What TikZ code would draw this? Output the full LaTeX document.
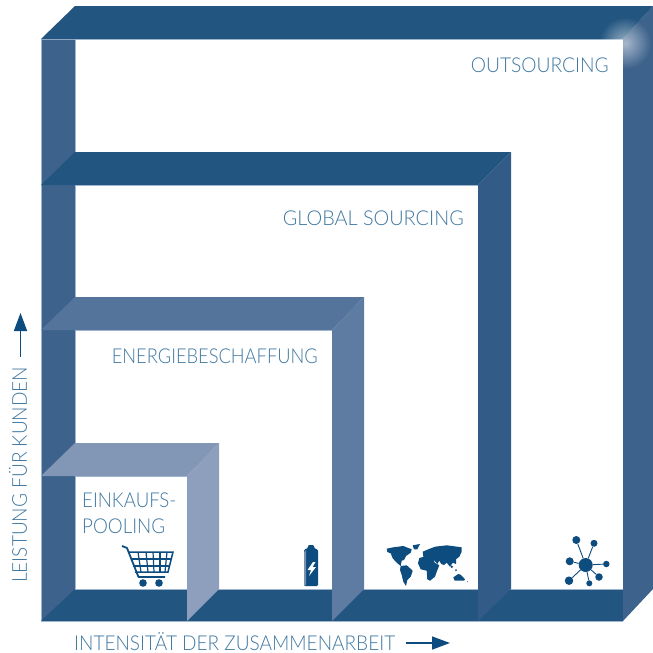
\documentclass[tikz,border=0pt]{standalone}
\usepackage{fontspec}
\usepackage{graphicx}
\setmainfont{Lato Light}
\usetikzlibrary{arrows.meta,fadings}
\definecolor{bardark}{HTML}{22557F}
\definecolor{stripleft}{HTML}{3D628C}
\definecolor{stripedge}{HTML}{9FB4CF}
\definecolor{stripglobal}{HTML}{325B87}
\definecolor{topenergy}{HTML}{54749C}
\definecolor{sideenergy}{HTML}{5E7CA1}
\definecolor{toppool}{HTML}{8296B6}
\definecolor{sidepool}{HTML}{8E9FBE}
\definecolor{labelblue}{HTML}{3F77A0}
\definecolor{iconblue}{HTML}{0D4C7F}
\tikzfading[name=glowfade,inner color=transparent!45,outer color=transparent!100]
\newcommand{\fitlabel}[2]{\resizebox{#1pt}{\height}{#2}}
\tikzset{
	label text/.style={text=labelblue,inner sep=0pt,font=\fontsize{20.5}{20.5}\selectfont},
	axis arrow/.style={iconblue,line width=1.6pt,-{Triangle[length=18pt,width=13pt]}},
	icon/.style={fill=iconblue,draw=none},
	icon line/.style={draw=iconblue,line width=1.5pt}
}
\begin{document}
\begin{tikzpicture}[x=1pt,y=-1pt]
	\useasboundingbox (0,0) rectangle (653,653);
	% left strip and bottom
	\draw[fill=stripleft,draw=stripedge,line width=.7pt] (41,39) rectangle (75,621);
	\fill[bardark] (41,621) -- (75,589) -- (623,589) -- (623,621) -- cycle;
	\draw[stripedge,line width=.5pt] (75,589) -- (623,589) (41,621) -- (623,621);
	% frames from large to small
	\foreach \front/\back/\inner/\outer/\topcol/\sidecol in {
		39/6/623/653/bardark/stripleft,
		185/152/478/511/bardark/stripglobal,
		330/297/332/364/topenergy/sideenergy,
		476/443/187/219/toppool/sidepool}{
		\fill[\sidecol] (\inner,\front) -- (\outer,\back) -- (\outer,589) -- (\inner,621) -- cycle;
		\fill[\topcol] (41,\front) -- (75,\back) -- (\outer,\back) -- (\inner,\front) -- cycle;
		\draw[stripedge,line width=.5pt] (75,\front) -- (\inner,\front);
	}
	\fill[white,path fading=glowfade] (625,43) circle (26);
	% labels
	\node[label text,anchor=base east] (outsourcing) at (609,72) {\fitlabel{138}{OUTSOURCING}};
	\node[label text,anchor=base east] (global) at (464,225.5) {\fitlabel{181}{GLOBAL SOURCING}};
	\node[label text,anchor=base east] (energy) at (318,363.5) {\fitlabel{206}{ENERGIEBESCHAFFUNG}};
	\node[label text,anchor=base west] (einkauf) at (82,507) {\fitlabel{94}{EINKAUFS-}};
	\node[label text,anchor=base west] (pooling) at (82,533) {\fitlabel{83}{POOLING}};
	\node[label text,anchor=base west] (xaxis) at (74,650) {\fitlabel{321}{INTENSITÄT DER ZUSAMMENARBEIT}};
	\node[label text,anchor=base west,rotate=90] (yaxis) at (27,583) {\fitlabel{216}{LEISTUNG FÜR KUNDEN}};
	% axis arrows
	\coordinate (xstart) at (406,643);
	\coordinate (xend) at (450,643);
	\coordinate (ystart) at (20.5,357);
	\coordinate (yend) at (20.5,313);
	\draw[axis arrow] (xstart) -- (xend);
	\draw[axis arrow] (ystart) -- (yend);
	% cart
	\draw[icon line,line width=1.8pt,line join=round] (122,546) -- (127,548) -- (138.5,577) -- (165,577);
	\draw[icon line] (128,552) -- (173,552) -- (168,572) -- (135,572);
	\draw[icon line,line width=1.2pt] (131,559) -- (171,559) (133,566) -- (169.5,566);
	\foreach \xa/\xb in {138/141,146/148,153/154,160/160,167/165}
		\draw[icon line,line width=1.2pt] (\xa,552) -- (\xb,572);
	\fill[icon] (143,583) circle (3.8) (159,583) circle (3.8);
	% battery
	\fill[icon,rounded corners=1.2pt] (304,586) -- (304,552) .. controls (304,549) and (306,549) .. (308,548) -- (308,545) -- (314,545) -- (314,548) .. controls (316,549) and (318,549) .. (318,552) -- (318,586) -- cycle;
	\fill[stripleft!70!white] (304,552) -- (306,550) -- (306,585) -- (304,585) -- cycle;
	\fill[white] (313,562) -- (307.5,570) -- (311,570) -- (309,576) -- (316,567) -- (312.5,567) -- (315.5,562) -- cycle;
	% world map
	\begin{scope}[shift={(280,520)}]
		\fill[icon] (106.7,28.7) -- (113.3,27.3) -- (123.3,26) -- (131.7,29.3) -- (130.7,32.7) -- (126,36) -- (124,40) -- (121.7,40.7) -- (120.7,46) -- (116.7,42.7) -- (112.7,38.3) -- (110.7,33.3) -- (107.3,32) -- cycle;
		\fill[icon] (132.7,25.3) -- (140,24) -- (137.3,29.3) -- (134,29.3) -- cycle;
		\fill[icon] (120.7,46) -- (126.7,45.3) -- (132.7,50.7) -- (130.7,56.7) -- (127.3,60) -- (126,66) -- (123.3,61.7) -- (121.7,55) -- (120,50) -- cycle;
		\fill[icon] (139.3,38) -- (146.7,36) -- (153.3,38) -- (154.7,42.7) -- (159.3,45.3) -- (156.7,51.7) -- (155,56.7) -- (150,60.7) -- (147.3,59.3) -- (146.7,50.7) -- (140.7,49.3) -- (138,43.3) -- cycle;
		\fill[icon] (142.7,31.7) -- (148.3,29.3) -- (155,26.7) -- (166.7,25.3) -- (181.7,27.3) -- (181.7,31.7) -- (179.3,36.7) -- (176,39.3) -- (176,44) -- (172.7,42.7) -- (170,46.7) -- (166.7,42.7) -- (164,45) -- (161.3,44) -- (159.3,40.7) -- (157.3,44) -- (154,40) -- (149.3,37.3) -- (143.3,36.7) -- cycle;
		\fill[icon] (173.3,57.3) -- (178.3,54) -- (180.7,54.7) -- (185,59.3) -- (184,60.7) -- (179.3,60.7) -- (174.7,60.7) -- cycle;
		\fill[icon] (171.7,46.7) circle (1.4) (176,50) circle (1) (187.7,61.7) circle (.5);
	\end{scope}
	% network
	\node[icon,circle,minimum size=14pt,inner sep=0pt] (hub) at (585.7,565) {};
	\foreach \nm/\px/\py/\dia in {na/576.3/540/8,nb/594/543.3/7,nc/569.7/561.3/8,nd/606.3/564/6.5,ne/569/580.7/8.5,nf/599/577/7.5,ng/589.3/583.3/6}{
		\node[icon,circle,minimum size=\dia pt,inner sep=0pt] (\nm) at (\px,\py) {};
		\draw[iconblue,line width=.9pt] (hub) -- (\nm);
	}
\end{tikzpicture}
\end{document}
